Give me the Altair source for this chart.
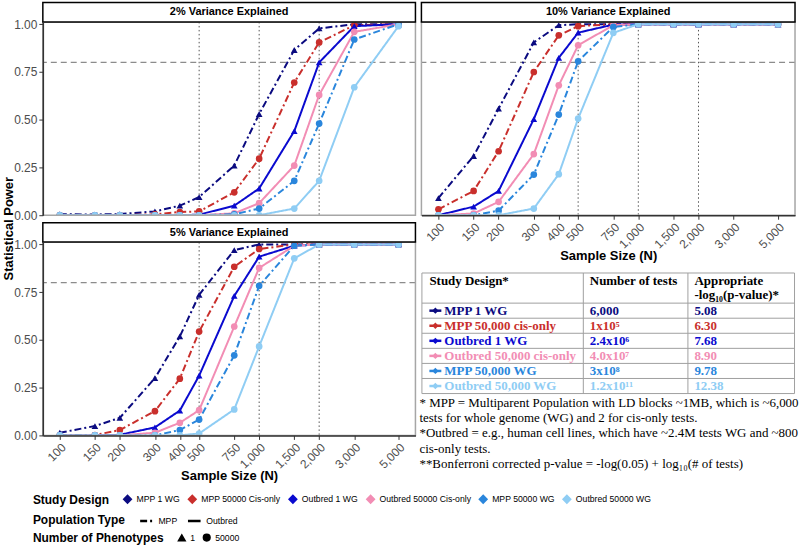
import altair as alt
import pandas as pd

# ---------------- data ----------------
sizes = [100, 150, 200, 300, 400, 500, 750, 1000, 1500, 2000, 3000, 5000]
designs = ["MPP 1 WG", "MPP 50000 Cis-only", "Outbred 1 WG",
           "Outbred 50000 Cis-only", "MPP 50000 WG", "Outbred 50000 WG"]
pop_type = ["MPP", "MPP", "Outbred", "Outbred", "MPP", "Outbred"]
n_pheno = ["1", "50000", "1", "50000", "50000", "50000"]
colors = ["#0b0b80", "#c92f2c", "#0a0acf", "#f28db4", "#2a86dc", "#8fcdf4"]

power_2 = {
    "MPP 1 WG":               [0.005, 0.004, 0.006, 0.02, 0.05, 0.095, 0.26, 0.53, 0.865, 0.978, 1.0, 1.0],
    "MPP 50000 Cis-only":     [0.0, 0.0, 0.0, 0.005, 0.017, 0.02, 0.12, 0.296, 0.695, 0.905, 0.995, 1.0],
    "Outbred 1 WG":           [0.0, 0.0, 0.0, 0.0, 0.0, 0.003, 0.05, 0.14, 0.44, 0.80, 0.99, 1.0],
    "Outbred 50000 Cis-only": [0.0, 0.0, 0.0, 0.0, 0.0, 0.0, 0.01, 0.063, 0.26, 0.63, 0.96, 1.0],
    "MPP 50000 WG":           [0.0, 0.0, 0.0, 0.0, 0.0, 0.0, 0.005, 0.035, 0.18, 0.48, 0.92, 1.0],
    "Outbred 50000 WG":       [0.0, 0.0, 0.0, 0.0, 0.0, 0.0, 0.0, 0.0, 0.035, 0.18, 0.67, 0.99],
}
power_5 = {
    "MPP 1 WG":               [0.014, 0.049, 0.092, 0.30, 0.518, 0.736, 0.97, 1.0, 1.0, 1.0, 1.0, 1.0],
    "MPP 50000 Cis-only":     [0.0, 0.002, 0.028, 0.127, 0.297, 0.544, 0.883, 0.976, 1.0, 1.0, 1.0, 1.0],
    "Outbred 1 WG":           [0.0, 0.0, 0.003, 0.042, 0.13, 0.313, 0.73, 0.936, 0.993, 1.0, 1.0, 1.0],
    "Outbred 50000 Cis-only": [0.0, 0.0, 0.0, 0.014, 0.066, 0.132, 0.57, 0.877, 0.993, 1.0, 1.0, 1.0],
    "MPP 50000 WG":           [0.0, 0.0, 0.0, 0.0, 0.028, 0.083, 0.419, 0.783, 0.993, 1.0, 1.0, 1.0],
    "Outbred 50000 WG":       [0.0, 0.0, 0.0, 0.0, 0.0, 0.01, 0.136, 0.466, 0.927, 1.0, 1.0, 1.0],
}
power_10 = {
    "MPP 1 WG":               [0.09, 0.31, 0.558, 0.905, 0.995, 1.0, 1.0, 1.0, 1.0, 1.0, 1.0, 1.0],
    "MPP 50000 Cis-only":     [0.031, 0.127, 0.335, 0.75, 0.942, 0.99, 1.0, 1.0, 1.0, 1.0, 1.0, 1.0],
    "Outbred 1 WG":           [0.0, 0.045, 0.127, 0.503, 0.824, 0.956, 0.998, 1.0, 1.0, 1.0, 1.0, 1.0],
    "Outbred 50000 Cis-only": [0.0, 0.009, 0.07, 0.32, 0.68, 0.89, 0.995, 1.0, 1.0, 1.0, 1.0, 1.0],
    "MPP 50000 WG":           [0.0, 0.0, 0.024, 0.213, 0.527, 0.806, 0.986, 1.0, 1.0, 1.0, 1.0, 1.0],
    "Outbred 50000 WG":       [0.0, 0.0, 0.0, 0.035, 0.215, 0.506, 0.955, 1.0, 1.0, 1.0, 1.0, 1.0],
}
panel_titles = {"2": "2% Variance Explained", "5": "5% Variance Explained",
                "10": "10% Variance Explained"}

table_labels = ["MPP 1 WG", "MPP 50,000 cis-only", "Outbred 1 WG",
                "Outbred 50,000 cis-only", "MPP 50,000 WG", "Outbred 50,000 WG"]
n_tests = ["6,000", "1x10\u2075", "2.4x10\u2076", "4.0x10\u2077", "3x10\u2078", "1.2x10\u00b9\u00b9"]
log_p = ["5.08", "6.30", "7.68", "8.90", "9.78", "12.38"]
table_header = ["Study Design*", "Number of tests", "Appropriate\n-log\u2081\u2080(p-value)*"]
footnotes = [
    "* MPP = Multiparent Population with LD blocks ~1MB, which is ~6,000",
    "tests for whole genome (WG) and 2 for cis-only tests.",
    "*Outbred = e.g., human cell lines, which have ~2.4M tests WG and ~800",
    "cis-only tests.",
    "**Bonferroni corrected p-value = -log(0.05) + log\u2081\u2080(# of tests)",
]

rows = []
for key, tab in [("2", power_2), ("5", power_5), ("10", power_10)]:
    for i, d in enumerate(designs):
        for n, v in zip(sizes, tab[d]):
            rows.append(dict(panel=key, N=n, power=v, design=d,
                             pop=pop_type[i], pheno=n_pheno[i]))
df = pd.DataFrame(rows)

# ---------------- layout constants ----------------
WL, WR, H = 374, 375, 194
GAP_COL, GAP_ROW = 6, 27

color_scale = alt.Scale(domain=designs, range=colors)
dash_scale = alt.Scale(domain=["MPP", "Outbred"], range=[[7, 3, 2, 3], [1, 0]])
shape_scale = alt.Scale(domain=["1", "50000"], range=["triangle-up", "circle"])
x_scale = alt.Scale(type="log", domain=[82.2, 6081], nice=False)
y_scale = alt.Scale(domain=[0, 1.012], nice=False, zero=False)

leg_common = dict(orient="none", direction="horizontal", titleOrient="left",
                  titleFontSize=12, titleFontWeight="bold", titleColor="black",
                  labelFontSize=8.7, labelColor="black", titlePadding=13,
                  columnPadding=5, labelOffset=4, titleFont="Liberation Sans",
                  labelFont="Liberation Sans")
color_leg = alt.Legend(title="Study Design", legendX=-10, legendY=474,
                       symbolType="diamond", symbolSize=60, **leg_common)
dash_leg = alt.Legend(title="Population Type", legendX=-10, legendY=493,
                      symbolType="stroke", symbolSize=160, symbolStrokeWidth=2.5,
                      symbolStrokeColor="black", **leg_common)
shape_leg = alt.Legend(title="Number of Phenotypes", legendX=-10, legendY=513,
                       symbolSize=45, symbolFillColor="black",
                       symbolStrokeColor="black", **leg_common)

axis_style = dict(labelFontSize=12, labelColor="#4d4d4d", tickColor="#333333",
                  tickSize=4, domainColor="#333333", domainWidth=1.5, grid=False,
                  labelPadding=2, zindex=1, titleFontSize=13, titleFontWeight="bold",
                  titleColor="black")


def panel(key, w, show_x, show_y, y_title):
    d = df[df.panel == key]
    if show_x:
        xaxis = alt.Axis(values=sizes, format=",d", labelAngle=-45, labelAlign="right",
                         labelBaseline="top", labelOverlap=False, labelFlush=False,
                         title="Sample Size (N)", titlePadding=-1, **axis_style)
    else:
        xaxis = None
    if show_y:
        if y_title:
            yaxis = alt.Axis(values=[0, 0.25, 0.5, 0.75, 1.0], format=".2f",
                             title="Statistical Power", titleX=-34.5, titleY=207,
                             titleAlign="center", titleBaseline="middle", **axis_style)
        else:
            yaxis = alt.Axis(values=[0, 0.25, 0.5, 0.75, 1.0], format=".2f",
                             title=None, **axis_style)
    else:
        yaxis = None

    x = alt.X("N:Q", scale=x_scale, axis=xaxis)
    y = alt.Y("power:Q", scale=y_scale, axis=yaxis)
    base = alt.Chart(d)
    vref = alt.Chart(pd.DataFrame({"N": [500, 1000, 2000]})).mark_rule(
        color="#555555", strokeDash=[1.5, 2.5], strokeWidth=1).encode(x=x)
    href = alt.Chart(pd.DataFrame({"power": [0.8]})).mark_rule(
        color="#8c8c8c", strokeDash=[6, 4], strokeWidth=1.3).encode(y=y)
    lines = base.mark_line(strokeWidth=2, strokeCap="butt", clip=True).encode(
        x=x, y=y,
        color=alt.Color("design:N", scale=color_scale, legend=color_leg),
        strokeDash=alt.StrokeDash("pop:N", scale=dash_scale, legend=dash_leg))
    pts = base.mark_point(filled=True, size=45, opacity=1, clip=True).encode(
        x=x, y=y,
        color=alt.Color("design:N", scale=color_scale, legend=color_leg),
        shape=alt.Shape("pheno:N", scale=shape_scale, legend=shape_leg))
    one = pd.DataFrame({"t": [panel_titles[key]]})
    border = alt.Chart(one).mark_rect(fillOpacity=0, stroke="#a6a6a6", strokeWidth=1.5).encode(
        x=alt.value(0), x2=alt.value(w), y=alt.value(0), y2=alt.value(H))
    strip = alt.Chart(one).mark_rect(fill="white", stroke="black", strokeWidth=1.5).encode(
        x=alt.value(0), x2=alt.value(w), y=alt.value(-19.5), y2=alt.value(0))
    strip_txt = alt.Chart(one).mark_text(fontSize=11, fontWeight="bold", color="black",
                                         baseline="middle").encode(
        x=alt.value(w / 2), y=alt.value(-9.5), text="t:N")
    return alt.layer(vref, href, lines, pts, border, strip, strip_txt).properties(
        width=w, height=H)


p2 = panel("2", WL, False, True, True)
p5 = panel("5", WL, True, True, False)
p10 = panel("10", WR, True, False, False)

# ---------------- table ----------------
TW = WR
serif = "Liberation Serif"
row_scale = alt.Scale(domain=[-2.5, 5.5], range=[31, 152])
px_scale = alt.Scale(domain=[0, TW], range=[0, TW])
tdf = pd.DataFrame({"r": list(range(6)), "design": designs, "label": table_labels,
                    "ntests": n_tests, "logp": log_p})
hl = alt.Chart(pd.DataFrame({"b": [-2.5, -0.5, 0.5, 1.5, 2.5, 3.5, 4.5, 5.5]})).mark_rule(
    color="#a0a0a0", strokeWidth=1).encode(
    y=alt.Y("b:Q", scale=row_scale, axis=None), x=alt.value(0.5), x2=alt.value(TW - 0.5))
col_edges = pd.DataFrame({"xv": [0.5, 162.5, 267.5, TW - 0.5], "top": [-2.5] * 4,
                          "bot": [5.5] * 4})
vl = alt.Chart(col_edges).mark_rule(color="#a0a0a0", strokeWidth=1).encode(
    x=alt.X("xv:Q", scale=px_scale, axis=None),
    y=alt.Y("top:Q", scale=row_scale, axis=None), y2="bot:Q")
tcolor = alt.Color("design:N", scale=color_scale, legend=color_leg)
ty = alt.Y("r:Q", scale=row_scale, axis=None)
key_line = alt.Chart(tdf).mark_rule(strokeWidth=2.5).encode(
    x=alt.value(8), x2=alt.value(20), y=ty, color=tcolor)
key_pt = alt.Chart(tdf).mark_point(shape="diamond", filled=True, size=40, opacity=1).encode(
    x=alt.value(14), y=ty, color=tcolor)
t_lab = alt.Chart(tdf).mark_text(align="left", baseline="middle", font=serif,
                                 fontWeight="bold", fontSize=13).encode(
    x=alt.value(23), y=ty, text="label:N", color=tcolor)
t_n = alt.Chart(tdf).mark_text(align="left", baseline="middle", font=serif,
                               fontWeight="bold", fontSize=13).encode(
    x=alt.value(169), y=ty, text="ntests:N", color=tcolor)
t_p = alt.Chart(tdf).mark_text(align="left", baseline="middle", font=serif,
                               fontWeight="bold", fontSize=13).encode(
    x=alt.value(274), y=ty, text="logp:N", color=tcolor)
hdr_x = [8, 169, 274]
hdr_layers = []
for hx, ht in zip(hdr_x, table_header):
    hdr_layers.append(alt.Chart(pd.DataFrame({"t": [ht]})).mark_text(
        align="left", baseline="top", font=serif, fontWeight="bold", fontSize=13,
        color="black", lineBreak="\n", lineHeight=14.5).encode(
        x=alt.value(hx), y=alt.value(33), text="t:N"))
fn = alt.Chart(pd.DataFrame({"t": ["\n".join(footnotes)]})).mark_text(
    align="left", baseline="top", font=serif, fontSize=13, color="black",
    lineBreak="\n", lineHeight=15.5).encode(x=alt.value(-2), y=alt.value(155), text="t:N")

tbl = alt.layer(hl, vl, key_line, key_pt, t_lab, t_n, t_p, *hdr_layers, fn).properties(
    width=TW, height=H)

chart = alt.concat(p2, p10, p5, tbl, columns=2,
                   spacing={"row": GAP_ROW, "column": GAP_COL}, bounds="flush").properties(
    padding={"left": 2, "top": 0, "right": 0, "bottom": 2},
    background="white").configure(font="Liberation Sans").configure_view(stroke=None)

chart.save("out.html", embed_options={"renderer": "svg", "actions": False})
